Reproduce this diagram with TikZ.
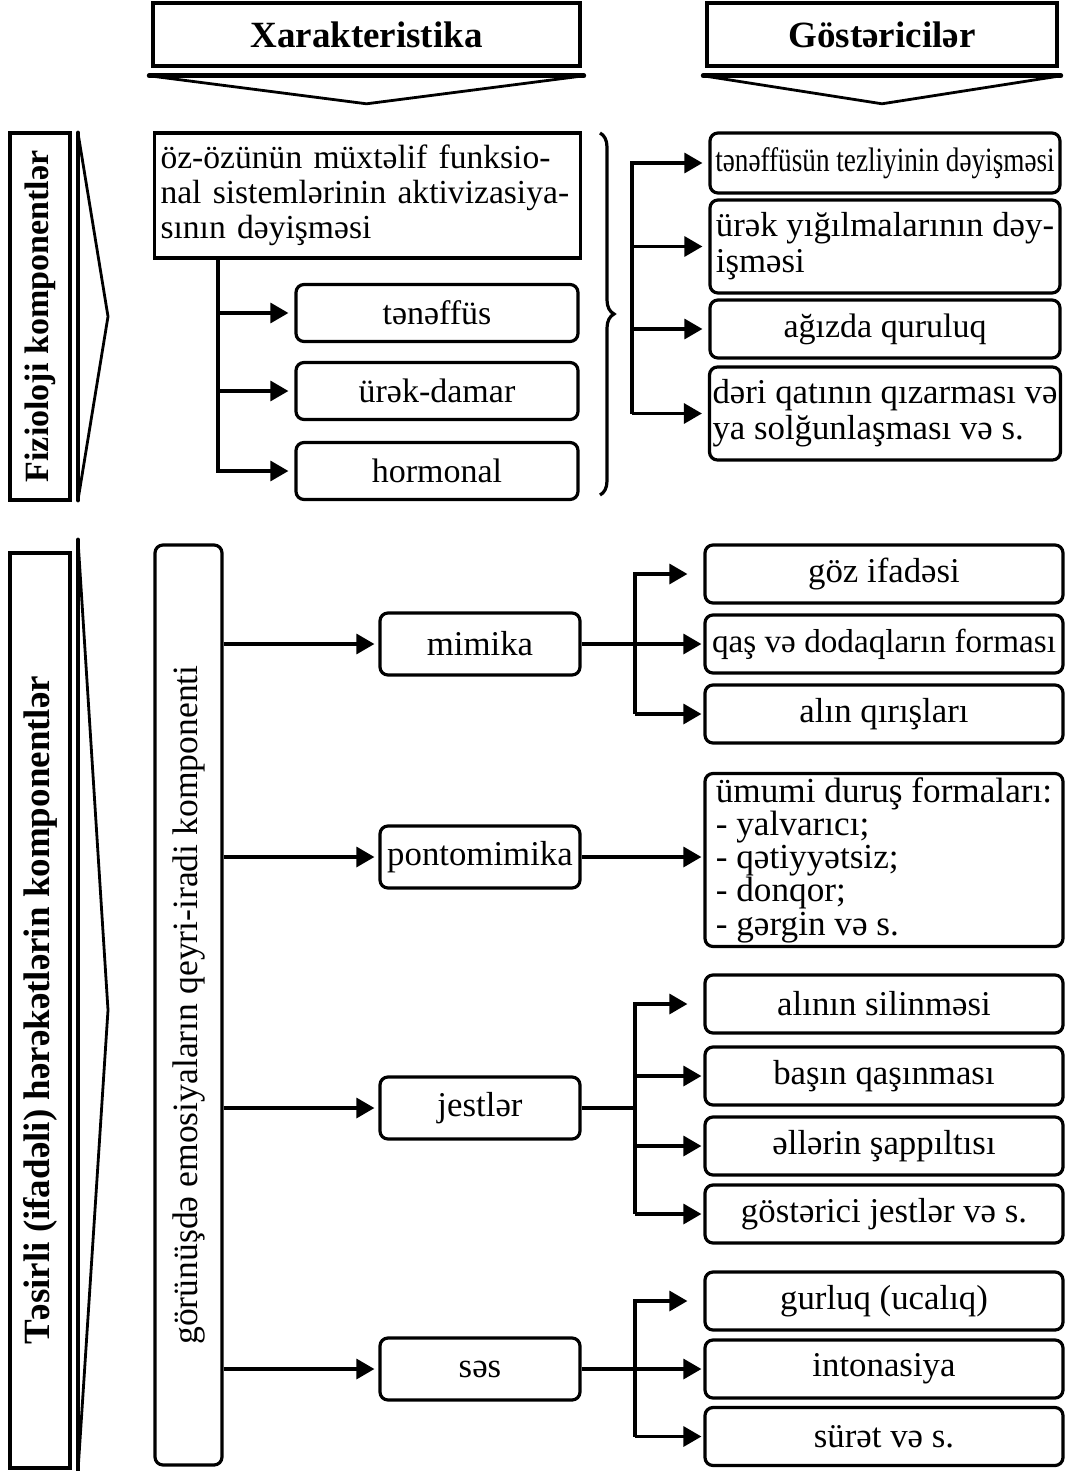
\documentclass[tikz,border=0pt]{standalone}
\usepackage{fontspec}
\setmainfont{Liberation Serif}
\newfontfamily\condserif[FakeStretch=0.8]{Liberation Serif}
\usetikzlibrary{arrows.meta,positioning,calc,decorations.pathreplacing}

\begin{document}
\begin{tikzpicture}[x=0.5pt, y=-0.5pt,
        font=\fontsize{17}{18}\selectfont,
        header/.style={rectangle, draw, line width=1.8pt, minimum height=31.5pt, font=\fontsize{18.5}{20}\selectfont\bfseries},
        sidebox/.style={rectangle, draw, line width=2pt, rotate=90, minimum height=30pt, inner sep=0pt, font=\fontsize{17}{18}\selectfont\bfseries},
        chev/.style={line width=1.4pt, line join=miter},
        bar/.style={line width=2.4pt, line cap=round},
        block/.style={rectangle, draw, line width=1.6pt, align=left, inner sep=3pt},
        rblock/.style={rectangle, rounded corners=4pt, draw, line width=1.6pt, align=center, inner sep=1.5pt},
        arrow/.style={-{Triangle[length=9pt,width=10pt]}, line width=1.6pt, shorten >=3pt},
        link/.style={line width=1.6pt},
    ]
        \useasboundingbox (0,0) rectangle (1067,1471);

        % Column headers with their chevrons
        \node[header, minimum width=213.5pt] (xar) at (366.5,34.5) {Xarakteristika};
        \node[header, minimum width=175pt] (gos) at (882,34.5) {Göstəricilər};
        \foreach \h in {xar,gos} {
            \draw[chev] ($(\h.south west)+(-2,8)$) -- ($(\h.south)+(0,36)$) -- ($(\h.south east)+(2,8)$) -- cycle;
            \draw[bar] ($(\h.south west)+(-2,8)$) -- ($(\h.south east)+(2,8)$);
        }

        % Row 1: physiological components
        \node[sidebox, minimum width=183.5pt] (fiz) at (40,316.5) {Fizioloji komponentlər};
        \coordinate (fchev) at (78,133);
        \draw[chev] (fchev) -- (108,316.5) -- (78,500) -- cycle;
        \draw[bar] (fchev) -- (78,500);

        \node[block, minimum width=212.5pt, minimum height=62.5pt, text width=207pt, font=\fontsize{16.8}{17.6}\selectfont] (osys) at (367.5,195.5)
            {öz-özünün müxtəlif funksio-\\nal sistemlərinin aktivizasiya-\\sının dəyişməsi};
        \node[rblock, minimum width=141pt, minimum height=28.5pt] (ten) at (437,313) {tənəffüs};
        \node[rblock, minimum width=141pt, minimum height=28.5pt] (urk) at (437,391) {ürək-damar};
        \node[rblock, minimum width=141pt, minimum height=28.5pt] (hor) at (437,471) {hormonal};

        \coordinate (ftop) at (218,258);
        \draw[arrow] (ftop) |- (hor.west);
        \draw[arrow] (ftop |- ten.west) -- (ten.west);
        \draw[arrow] (ftop |- urk.west) -- (urk.west);

        \draw[link, decorate, decoration={brace, amplitude=7pt}] (600,133) -- (600,495);

        \node[rblock, minimum width=175pt, minimum height=30pt] (tez) at (885,163) {\condserif tənəffüsün tezliyinin dəyişməsi};
        \node[rblock, minimum width=175pt, minimum height=46.5pt, align=left, font=\fontsize{17.4}{18}\selectfont] (yig) at (885,246.5) {ürək yığılmalarının dəy-\\işməsi};
        \node[rblock, minimum width=175pt, minimum height=29pt] (agiz) at (885,329) {ağızda quruluq};
        \node[rblock, minimum width=175pt, minimum height=46.5pt, align=left, font=\fontsize{17.4}{18}\selectfont] (deri) at (885,413.5) {dəri qatının qızarması və\\ya solğunlaşması və s.};

        \coordinate (gtop) at (632,163);
        \draw[arrow] (gtop |- deri.west) |- (tez.west);
        \draw[arrow] (gtop |- yig.west) -- (yig.west);
        \draw[arrow] (gtop |- agiz.west) -- (agiz.west);
        \draw[arrow] (gtop |- deri.west) -- (deri.west);

        % Row 2: expressive movements
        \node[sidebox, minimum width=457.5pt, font=\fontsize{18.5}{20}\selectfont\bfseries] (tes) at (40,1010.5) {Təsirli (ifadəli) hərəkətlərin komponentlər};
        \coordinate (tchev) at (78,540);
        \draw[chev] (tchev) -- (108,1010) -- (78,1471) -- cycle;
        \draw[bar] (tchev) -- (78,1471);

        \node[rblock, rotate=90, minimum width=460pt, minimum height=33.5pt, font=\fontsize{17.8}{18}\selectfont] (gor) at (188.5,1005) {görünüşdə emosiyaların qeyri-iradi komponenti};

        \node[rblock, minimum width=100pt, minimum height=31pt, font=\fontsize{17.4}{18}\selectfont] (mim) at (480,644) {mimika};
        \node[rblock, minimum width=100pt, minimum height=31pt, font=\fontsize{17.4}{18}\selectfont] (pon) at (480,857) {pontomimika};
        \node[rblock, minimum width=100pt, minimum height=31pt, font=\fontsize{17.4}{18}\selectfont] (jest) at (480,1108) {jestlər};
        \node[rblock, minimum width=100pt, minimum height=31pt, font=\fontsize{17.4}{18}\selectfont] (ses) at (480,1369) {səs};

        \foreach \n in {mim,pon,jest,ses}
            \draw[arrow, shorten >=2pt] (gor.south |- \n.west) -- (\n.west);

        \tikzset{leaf/.style={rblock, minimum width=179pt, minimum height=29pt, font=\fontsize{17.4}{18}\selectfont}}

        % mimika
        \node[leaf] (goz) at (884,574) {göz ifadəsi};
        \node[leaf, font=\fontsize{16.6}{18}\selectfont] (qas) at (884,644) {qaş və dodaqların forması};
        \node[leaf] (alin) at (884,714) {alın qırışları};
        \coordinate (mbus) at (635,644);
        \draw[arrow, shorten >=1pt] (mim.east) -- (mim.east -| qas.west);
        \draw[arrow, shorten >=8pt] (mbus |- alin.west) |- (goz.west);
        \draw[arrow, shorten >=1pt] (mbus |- alin.west) -- (alin.west);

        % pontomimika
        \node[rblock, minimum width=179pt, minimum height=86.5pt, align=left, font=\fontsize{17.6}{16.6}\selectfont] (umumi) at (884,860)
            {ümumi duruş formaları:\\- yalvarıcı;\\- qətiyyətsiz;\\- donqor;\\- gərgin və s.};
        \draw[arrow, shorten >=1pt] (pon.east) -- (pon.east -| umumi.west);

        % jestler
        \node[leaf] (alinin) at (884,1004) {alının silinməsi};
        \node[leaf] (basin) at (884,1076) {başın qaşınması};
        \node[leaf] (eller) at (884,1146) {əllərin şappıltısı};
        \node[leaf] (gost) at (884,1214) {göstərici jestlər və s.};
        \coordinate (jbus) at (635,1108);
        \draw[link] (jest.east) -- (jbus);
        \draw[arrow, shorten >=8pt] (jbus |- gost.west) |- (alinin.west);
        \draw[arrow, shorten >=1pt] (jbus |- basin.west) -- (basin.west);
        \draw[arrow, shorten >=1pt] (jbus |- eller.west) -- (eller.west);
        \draw[arrow, shorten >=1pt] (jbus |- gost.west) -- (gost.west);

        % ses
        \node[leaf] (gur) at (884,1301) {gurluq (ucalıq)};
        \node[leaf] (inton) at (884,1369) {intonasiya};
        \node[leaf] (surat) at (884,1436.5) {sürət və s.};
        \coordinate (sbus) at (635,1369);
        \draw[arrow, shorten >=1pt] (ses.east) -- (ses.east -| inton.west);
        \draw[arrow, shorten >=8pt] (sbus |- surat.west) |- (gur.west);
        \draw[arrow, shorten >=1pt] (sbus |- surat.west) -- (surat.west);

    \end{tikzpicture}
\end{document}
